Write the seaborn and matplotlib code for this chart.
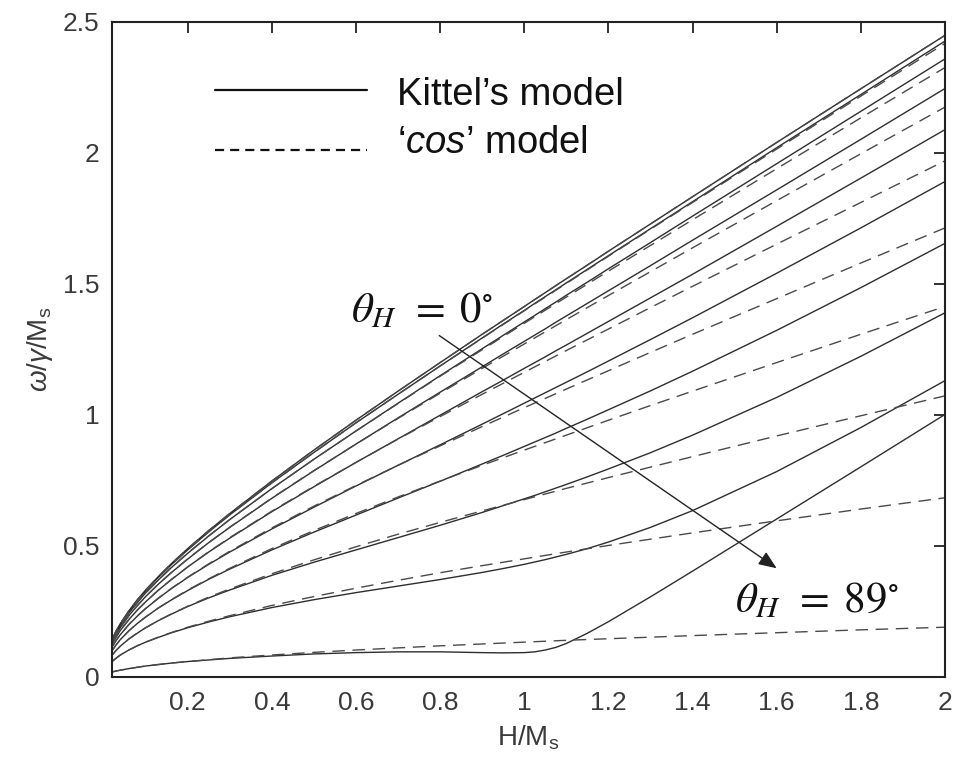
import numpy as np
import pandas as pd
import matplotlib
matplotlib.use("Agg")
import matplotlib.pyplot as plt
from matplotlib.lines import Line2D
import seaborn as sns

# ---------------- data ----------------
angles = [0, 10, 20, 30, 40, 50, 60, 70, 80, 89]

# Kittel's model (solid)
h_kittel = [0.02, 0.03, 0.04, 0.06, 0.08, 0.1, 0.13, 0.16, 0.2, 0.25, 0.3, 0.4, 0.5, 0.6, 0.7,
            0.8, 0.9, 0.95, 1.0, 1.025, 1.05, 1.075, 1.1, 1.15, 1.2, 1.3, 1.4, 1.6, 1.8, 2.0]
k0 = [0.143, 0.176, 0.204, 0.252, 0.294, 0.332, 0.383, 0.431, 0.490, 0.559, 0.624, 0.748, 0.866, 0.980, 1.091,
      1.200, 1.308, 1.361, 1.414, 1.441, 1.467, 1.494, 1.520, 1.572, 1.625, 1.729, 1.833, 2.040, 2.245, 2.449]
k10 = [0.142, 0.174, 0.202, 0.250, 0.292, 0.329, 0.380, 0.427, 0.485, 0.554, 0.619, 0.741, 0.857, 0.970, 1.079,
       1.187, 1.294, 1.347, 1.399, 1.426, 1.452, 1.478, 1.504, 1.556, 1.608, 1.711, 1.814, 2.020, 2.223, 2.427]
k20 = [0.138, 0.170, 0.197, 0.244, 0.284, 0.321, 0.370, 0.416, 0.472, 0.538, 0.601, 0.719, 0.831, 0.939, 1.045,
       1.150, 1.253, 1.304, 1.355, 1.380, 1.406, 1.431, 1.457, 1.507, 1.558, 1.658, 1.759, 1.959, 2.159, 2.359]
k30 = [0.133, 0.163, 0.189, 0.234, 0.272, 0.307, 0.354, 0.397, 0.450, 0.513, 0.571, 0.682, 0.787, 0.889, 0.989,
       1.087, 1.184, 1.233, 1.281, 1.305, 1.329, 1.354, 1.378, 1.426, 1.474, 1.570, 1.667, 1.859, 2.052, 2.246]
k40 = [0.125, 0.153, 0.178, 0.219, 0.255, 0.287, 0.331, 0.370, 0.420, 0.477, 0.530, 0.631, 0.726, 0.819, 0.909,
       0.999, 1.089, 1.133, 1.178, 1.200, 1.222, 1.245, 1.267, 1.312, 1.357, 1.447, 1.537, 1.720, 1.904, 2.089]
k50 = [0.114, 0.140, 0.162, 0.200, 0.232, 0.261, 0.300, 0.336, 0.380, 0.430, 0.477, 0.565, 0.648, 0.729, 0.808,
       0.886, 0.965, 1.005, 1.045, 1.065, 1.085, 1.105, 1.125, 1.165, 1.206, 1.288, 1.371, 1.541, 1.714, 1.891]
k60 = [0.100, 0.123, 0.143, 0.176, 0.204, 0.229, 0.263, 0.293, 0.330, 0.373, 0.412, 0.485, 0.553, 0.618, 0.683,
       0.747, 0.813, 0.846, 0.880, 0.897, 0.914, 0.931, 0.949, 0.984, 1.020, 1.092, 1.167, 1.323, 1.486, 1.655]
k70 = [0.083, 0.102, 0.118, 0.145, 0.167, 0.188, 0.215, 0.239, 0.269, 0.302, 0.332, 0.388, 0.438, 0.485, 0.532,
       0.579, 0.628, 0.654, 0.680, 0.693, 0.707, 0.721, 0.735, 0.764, 0.794, 0.856, 0.923, 1.067, 1.224, 1.390]
k80 = [0.059, 0.072, 0.084, 0.103, 0.119, 0.133, 0.151, 0.168, 0.188, 0.210, 0.230, 0.265, 0.295, 0.322, 0.347,
       0.372, 0.399, 0.414, 0.430, 0.439, 0.448, 0.458, 0.468, 0.490, 0.515, 0.571, 0.635, 0.784, 0.952, 1.131]
k89 = [0.019, 0.023, 0.026, 0.032, 0.037, 0.042, 0.047, 0.053, 0.059, 0.065, 0.071, 0.080, 0.088, 0.093, 0.096,
       0.096, 0.093, 0.092, 0.093, 0.096, 0.103, 0.113, 0.128, 0.167, 0.211, 0.306, 0.404, 0.603, 0.802, 1.002]

# 'cos' model (dashed)
h_cos = [0.02, 0.03, 0.04, 0.06, 0.08, 0.1, 0.13, 0.16, 0.2, 0.25, 0.3, 0.4, 0.5, 0.6, 0.7,
         0.8, 0.9, 1.0, 1.1, 1.2, 1.3, 1.4, 1.6, 1.8, 2.0]
c0 = [0.143, 0.176, 0.204, 0.252, 0.294, 0.332, 0.383, 0.431, 0.490, 0.559, 0.624, 0.748, 0.866, 0.980, 1.091,
      1.200, 1.308, 1.414, 1.520, 1.625, 1.729, 1.833, 2.040, 2.245, 2.449]
c10 = [0.142, 0.174, 0.202, 0.250, 0.292, 0.329, 0.380, 0.427, 0.486, 0.554, 0.619, 0.741, 0.857, 0.970, 1.079,
       1.187, 1.293, 1.398, 1.502, 1.606, 1.709, 1.811, 2.015, 2.217, 2.418]
c20 = [0.138, 0.170, 0.197, 0.244, 0.284, 0.321, 0.370, 0.416, 0.473, 0.539, 0.601, 0.719, 0.831, 0.939, 1.044,
       1.148, 1.249, 1.350, 1.450, 1.549, 1.647, 1.745, 1.940, 2.134, 2.326]
c30 = [0.133, 0.163, 0.189, 0.234, 0.272, 0.307, 0.354, 0.397, 0.451, 0.513, 0.572, 0.683, 0.788, 0.889, 0.987,
       1.083, 1.178, 1.271, 1.364, 1.456, 1.547, 1.638, 1.818, 1.997, 2.175]
c40 = [0.125, 0.153, 0.178, 0.219, 0.255, 0.287, 0.331, 0.371, 0.420, 0.478, 0.532, 0.633, 0.728, 0.819, 0.908,
       0.994, 1.079, 1.163, 1.246, 1.328, 1.410, 1.491, 1.652, 1.811, 1.970]
c50 = [0.114, 0.140, 0.162, 0.200, 0.233, 0.262, 0.301, 0.337, 0.381, 0.432, 0.480, 0.569, 0.652, 0.731, 0.808,
       0.882, 0.956, 1.028, 1.099, 1.169, 1.239, 1.308, 1.444, 1.580, 1.714]
c60 = [0.100, 0.123, 0.143, 0.176, 0.204, 0.229, 0.263, 0.294, 0.332, 0.375, 0.415, 0.490, 0.559, 0.624, 0.687,
       0.748, 0.808, 0.866, 0.923, 0.980, 1.036, 1.091, 1.200, 1.308, 1.414]
c70 = [0.083, 0.102, 0.118, 0.145, 0.168, 0.188, 0.215, 0.240, 0.270, 0.305, 0.336, 0.394, 0.447, 0.497, 0.545,
       0.590, 0.634, 0.677, 0.720, 0.761, 0.801, 0.841, 0.920, 0.997, 1.073]
c80 = [0.059, 0.072, 0.084, 0.103, 0.119, 0.133, 0.152, 0.169, 0.190, 0.213, 0.234, 0.273, 0.307, 0.339, 0.369,
       0.398, 0.425, 0.451, 0.477, 0.502, 0.526, 0.550, 0.596, 0.641, 0.684]
c89 = [0.019, 0.023, 0.026, 0.032, 0.037, 0.042, 0.048, 0.053, 0.059, 0.066, 0.073, 0.084, 0.094, 0.103, 0.111,
       0.119, 0.126, 0.133, 0.140, 0.146, 0.152, 0.158, 0.169, 0.180, 0.190]

kittel_series = [k0, k10, k20, k30, k40, k50, k60, k70, k80, k89]
cos_series = [c0, c10, c20, c30, c40, c50, c60, c70, c80, c89]

x_ticks = [0.2, 0.4, 0.6, 0.8, 1.0, 1.2, 1.4, 1.6, 1.8, 2.0]
x_ticklabels = ["0.2", "0.4", "0.6", "0.8", "1", "1.2", "1.4", "1.6", "1.8", "2"]
y_ticks = [0, 0.5, 1.0, 1.5, 2.0, 2.5]
y_ticklabels = ["0", "0.5", "1", "1.5", "2", "2.5"]

# ---------------- style ----------------
sns.set_style("white")
plt.rcParams["font.family"] = ["Liberation Sans", "DejaVu Sans"]
plt.rcParams["mathtext.fontset"] = "custom"
plt.rcParams["mathtext.rm"] = "Liberation Sans"
plt.rcParams["mathtext.it"] = "Liberation Sans:italic"
plt.rcParams["mathtext.bf"] = "Liberation Sans:bold"

fig = plt.figure(figsize=(9.58, 7.68), dpi=100)
ax = fig.add_axes([0.1169, 0.1185, 0.8695, 0.8529])

solid_col = "#2e2e2e"
dash_col = "#4a4a4a"

for a, ys in zip(angles, kittel_series):
    df = pd.DataFrame({"H": h_kittel, "w": ys})
    sns.lineplot(data=df, x="H", y="w", ax=ax, color=solid_col, linewidth=1.0,
                 estimator=None, sort=False)
for a, ys in zip(angles, cos_series):
    df = pd.DataFrame({"H": h_cos, "w": ys})
    sns.lineplot(data=df, x="H", y="w", ax=ax, color=dash_col, linewidth=1.0,
                 estimator=None, sort=False)
    ax.lines[-1].set_dashes((9, 5.5))

ax.set_xlim(0.02, 2.0)
ax.set_ylim(0, 2.5)
ax.set_xticks(x_ticks)
ax.set_xticklabels(x_ticklabels)
ax.set_yticks(y_ticks)
ax.set_yticklabels(y_ticklabels)
ax.tick_params(direction="in", length=8, width=1.3, top=True, right=True,
               labelsize=19, labelcolor="#3a3a3a", color="#222222")
ax.tick_params(axis="x", pad=10)
ax.tick_params(axis="y", pad=9)
for s in ax.spines.values():
    s.set_linewidth(1.5)
    s.set_color("#222222")

ax.set_xlabel("H/M$_{\\rm s}$", fontsize=20, color="#3a3a3a", labelpad=6)
ax.set_ylabel("$\\omega$/$\\gamma$/M$_{\\rm s}$", fontsize=20, color="#3a3a3a", labelpad=6)

# legend
h_solid = Line2D([], [], color="#111111", lw=1.6)
h_dash = Line2D([], [], color="#111111", lw=1.6, dashes=(4.1, 2.7))
labels = ["Kittel\u2019s model", "\u2018$\\mathit{cos}$\u2019 model"]
leg = ax.legend([h_solid, h_dash], labels, loc="upper left", bbox_to_anchor=(0.1056, 0.939),
                frameon=False, fontsize=27.5, handlelength=3.98, handletextpad=0.79,
                labelspacing=0.3, borderaxespad=0, borderpad=0.4)
for t in leg.get_texts():
    t.set_color("#111111")
# nudge the legend keys vertically to where they sit in the reference
lh = leg.legend_handles
lh[0].set_ydata(np.asarray(lh[0].get_ydata(), dtype=float) + 1.4)
lh[1].set_ydata(np.asarray(lh[1].get_ydata(), dtype=float) - 7.9)

# annotations
ax.annotate("", xy=(1.60, 0.415), xytext=(0.798, 1.303),
            arrowprops=dict(arrowstyle="-|>,head_length=1.1,head_width=0.45",
                            color="#222222", lw=1.0, shrinkA=0, shrinkB=0))
t1 = ax.text(0.588, 1.353, "$\\theta_H\\;\\,=\\;0^{\\circ}$", fontsize=31, color="#111111",
             ha="left", va="baseline")
t1.set_math_fontfamily("stix")
t2 = ax.text(1.50, 0.248, "$\\theta_H\\;\\,=\\;89^{\\circ}$", fontsize=31, color="#111111",
             ha="left", va="baseline")
t2.set_math_fontfamily("stix")

fig.savefig("out.png", dpi=100)
